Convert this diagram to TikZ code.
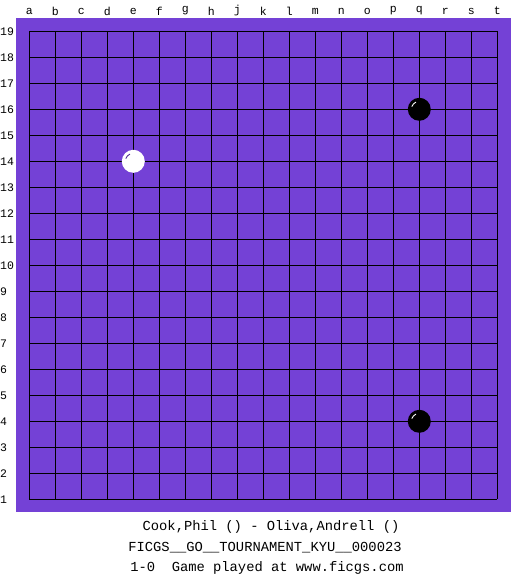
\documentclass[tikz,border=0pt]{standalone}
\usepackage{fontspec}
\setmonofont{Liberation Mono}
\definecolor{board}{RGB}{116,65,214}
\tikzset{
  gridline/.style={black, line width=1pt},
  coordlabel/.style={font=\fontsize{11.5}{12}\selectfont\ttfamily, inner sep=0pt},
  infotext/.style={font=\fontsize{13.8}{15}\selectfont\ttfamily, inner sep=0pt},
  blackstone/.style={circle, fill=black, minimum size=23pt, inner sep=0pt},
  whitestone/.style={circle, fill=white, minimum size=23pt, inner sep=0pt},
  shine/.style={line width=0.9pt},
}
\begin{document}
\begin{tikzpicture}[x=1pt, y=-1pt]
\useasboundingbox (0,0) rectangle (525,575);
\fill[white] (0,0) rectangle (525,575);
\fill[board] (16,18) rectangle (511,512);
% grid
\foreach \i in {0,...,18} {
  \draw[gridline] ({29.3+26*\i},31.3) -- ({29.3+26*\i},499.3);
  \draw[gridline] (29.3,{31.3+26*\i}) -- (497.3,{31.3+26*\i});
}
% column labels
\foreach \l [count=\i from 0] in {a,b,c,d,e,f,g,h,j,k,l,m,n,o,p,q,r,s,t} {
  \node[coordlabel] (col\l) at ({29.3+26*\i},11) {\l};
}
% row labels
\foreach \r in {1,...,19} {
  \node[coordlabel, anchor=west] (row\r) at (0,{31.3+26*(19-\r)}) {\r};
}
% stones
\node[whitestone] (e14) at (133.3,161.3) {};
\draw[shine, board!70!black] (e14.center) ++(-7.5,-2.7) arc[start angle=-160, end angle=-115, radius=8];
\node[blackstone] (q16) at (419.3,109.3) {};
\draw[shine, white] (q16.center) ++(-7.5,-2.7) arc[start angle=-160, end angle=-115, radius=8];
\node[blackstone] (q4) at (419.3,421.3) {};
\draw[shine, white] (q4.center) ++(-7.5,-2.7) arc[start angle=-160, end angle=-115, radius=8];
% info
\node[infotext] (players) at (271,526.5) {Cook,Phil () - Oliva,Andrell ()};
\node[infotext] (event) at (265,547.5) {FICGS\_\_GO\_\_TOURNAMENT\_KYU\_\_000023};
\node[infotext] (result) at (267,568) {1-0\ \ Game played at www.ficgs.com};
\end{tikzpicture}
\end{document}
